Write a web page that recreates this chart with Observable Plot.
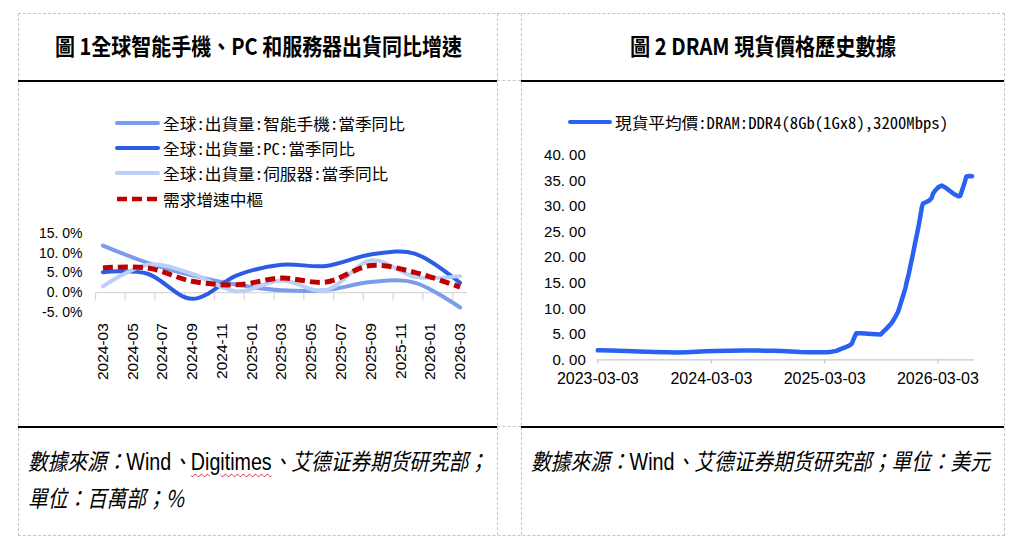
<!DOCTYPE html>
<html><head><meta charset="utf-8">
<script src="https://cdn.jsdelivr.net/npm/d3@7"></script>
<script src="https://cdn.jsdelivr.net/npm/@observablehq/plot@0.6"></script>
<style>
body{margin:0;background:#fff;}
#page{position:relative;width:1032px;height:557px;overflow:hidden;font-family:"Noto Sans CJK TC","Noto Sans CJK SC",sans-serif;color:#000;}
.ln{position:absolute;}
.fit{position:absolute;white-space:nowrap;transform-origin:0 50%;line-height:1;}
.chart{position:absolute;}
.up{font-style:normal;font-family:"Liberation Sans",Arial,sans-serif;}
.sq{text-decoration:underline wavy #d02020;text-decoration-thickness:1px;text-underline-offset:3px;}
</style></head><body><div id="page"></div>
<script>
// ---------- data: panel 1 ----------
const months = ["2024-03","2024-04","2024-05","2024-06","2024-07","2024-08","2024-09","2024-10","2024-11","2024-12",
  "2025-01","2025-02","2025-03","2025-04","2025-05","2025-06","2025-07","2025-08","2025-09","2025-10","2025-11","2025-12",
  "2026-01","2026-02","2026-03"];
const quarters = ["2024-03","2024-06","2024-09","2024-12","2025-03","2025-06","2025-09","2025-12","2026-03"];
const smartphone = [12.0, 7.6, 4.4, 2.0, 0.6, 0.6, 2.7, 2.5, -3.8];
const pcShip     = [5.2, 4.8, -1.6, 4.4, 7.1, 6.8, 9.7, 9.9, 2.5];
const serverShip = [1.6, 7.1, 4.8, 0.3, 3.1, 0.6, 8.2, 4.0, 4.2];
const demandMid  = [6.3, 6.3, 2.9, 2.0, 3.7, 2.7, 6.9, 5.1, 1.4];
const seriesNames1 = ["全球:出貨量:智能手機:當季同比","全球:出貨量:PC:當季同比","全球:出貨量:伺服器:當季同比","需求增速中樞"];
const xTickLabels1 = ["2024-03","2024-05","2024-07","2024-09","2024-11","2025-01","2025-03","2025-05","2025-07","2025-09","2025-11","2026-01","2026-03"];
const yTicks1 = [-5, 0, 5, 10, 15];
const yTickLabels1 = ["-5. 0%","0. 0%","5. 0%","10. 0%","15. 0%"];

// ---------- data: panel 2 ----------
const dramDates = ["2023-03-03","2023-04-15","2023-06-01","2023-07-15","2023-09-01","2023-10-15","2023-11-15","2023-12-15",
  "2024-01-15","2024-02-15","2024-03-15","2024-05-01","2024-06-15","2024-08-01","2024-09-15","2024-10-15","2024-11-15","2024-12-15",
  "2025-01-15","2025-02-15","2025-03-10","2025-03-25","2025-04-10","2025-04-23","2025-05-10","2025-05-22","2025-05-30","2025-06-06",
  "2025-06-13","2025-06-30","2025-07-20","2025-08-15","2025-08-30","2025-09-10","2025-09-20","2025-10-05","2025-10-17","2025-10-25",
  "2025-10-31","2025-11-08","2025-11-14","2025-11-18","2025-11-24","2025-11-29","2025-12-06","2025-12-13","2025-12-20","2025-12-28",
  "2026-01-02","2026-01-06","2026-01-10","2026-01-14","2026-01-25","2026-02-03","2026-02-10","2026-02-16","2026-02-23","2026-03-05",
  "2026-03-16","2026-03-28","2026-04-12","2026-04-25","2026-05-09","2026-05-14","2026-05-20","2026-05-27","2026-06-03","2026-06-12","2026-06-21"];
const dramPrice = [1.85,1.80,1.70,1.62,1.55,1.48,1.45,1.50,
  1.58,1.65,1.72,1.78,1.80,1.80,1.78,1.72,1.62,1.52,
  1.48,1.47,1.50,1.58,1.75,2.10,2.50,2.80,3.20,4.30,
  5.20,5.20,5.10,5.00,4.95,5.60,6.20,7.20,8.40,9.30,
  10.40,12.00,13.20,14.00,15.60,16.80,18.80,20.80,23.00,25.30,
  26.90,28.30,29.80,30.60,30.90,31.20,31.60,32.60,33.20,33.80,
  34.10,33.70,33.00,32.40,32.00,32.10,33.20,34.50,35.90,36.00,35.95];
const dramSeriesName = "現貨平均價:DRAM:DDR4(8Gb(1Gx8),3200Mbps)";
const xTickLabels2 = ["2023-03-03","2024-03-03","2025-03-03","2026-03-03"];
const yTicks2 = [0,5,10,15,20,25,30,35,40];
const yTickLabels2 = ["0. 00","5. 00","10. 00","15. 00","20. 00","25. 00","30. 00","35. 00","40. 00"];

const titles = ["圖 1全球智能手機、PC 和服務器出貨同比增速", "圖 2 DRAM 現貨價格歷史數據"];

// ---------- layout ----------
const page = document.getElementById("page");
function box(css){ const d=document.createElement("div"); d.className="ln"; d.style.cssText=css; page.appendChild(d); return d; }
const dashC = "#c4c4c4";
box(`left:18px;top:13px;width:985px;height:521px;border:1px dashed ${dashC};`);
box(`left:497px;top:13px;width:0;height:522px;border-left:1px dashed ${dashC};`);
box(`left:521px;top:13px;width:0;height:522px;border-left:1px dashed ${dashC};`);
box(`left:497px;top:80px;width:24px;height:0;border-top:1px dashed ${dashC};`);
box(`left:497px;top:426px;width:24px;height:0;border-top:1px dashed ${dashC};`);
box(`left:18px;top:80px;width:479px;height:2px;background:#000;`);
box(`left:521px;top:80px;width:483px;height:2px;background:#000;`);
box(`left:18px;top:425.5px;width:479px;height:2px;background:#000;`);
box(`left:521px;top:425.5px;width:483px;height:2px;background:#000;`);

function textEl(html, fs, extra){
  const s=document.createElement("div"); s.className="fit"; s.innerHTML=html;
  s.style.fontSize=fs+"px"; if(extra) s.style.cssText+=extra; page.appendChild(s); return s;
}
function placeFit(el, x, cy, targetW, scale){
  const r=el.getBoundingClientRect();
  const k = scale!=null ? scale : targetW/r.width;
  el.style.left=x+"px"; el.style.top=(cy - r.height/2)+"px";
  el.style.transform=`scaleX(${k})`; return k;
}
// titles
const t1=textEl(titles[0],23,"font-weight:700;");
{ const w=407; placeFit(t1, 258.5-w/2, 45, w); }
const t2=textEl(titles[1],23,"font-weight:700;");
{ const w=266; placeFit(t2, 763-w/2, 45, w); }
// footers
const f1=textEl('數據來源：<span class="up">Wind</span>、<span class="up sq">Digitimes</span>、艾德证券期货研究部；',23,"font-style:italic;");
const kf=placeFit(f1, 28, 461, 460);
const f2=textEl('單位：百萬部；%',23,"font-style:italic;");
placeFit(f2, 28, 497, 0, kf);
const f3=textEl('數據來源：<span class="up">Wind</span>、艾德证券期货研究部；單位：美元',23,"font-style:italic;");
placeFit(f3, 531, 461, 459);

// legends
const colors1 = ["#7b9cec","#2c5be4","#bccff6","#c00000"];
const legFont = '"Noto Sans Mono CJK TC","Noto Sans CJK TC",sans-serif';
const legY = [122.5, 147.8, 173.2, 198.5];
let kl=null;
seriesNames1.forEach((name,i)=>{
  const sw=document.createElementNS("http://www.w3.org/2000/svg","svg");
  sw.setAttribute("width",46); sw.setAttribute("height",10);
  sw.style.cssText=`position:absolute;left:115px;top:${legY[i]-5}px;`;
  sw.innerHTML=`<line x1="2" x2="43" y1="5" y2="5" stroke="${colors1[i]}" stroke-width="${i===3?4.5:4}" ${i===3?'stroke-dasharray="10,5"':'stroke-linecap="round"'}/>`;
  page.appendChild(sw);
  const t=textEl(name,16,`font-family:${legFont};`);
  const k=placeFit(t,162.7,legY[i],242,kl); if(kl==null) kl=k;
});
{
  const sw=document.createElementNS("http://www.w3.org/2000/svg","svg");
  sw.setAttribute("width",46); sw.setAttribute("height",10);
  sw.style.cssText=`position:absolute;left:568px;top:${122.3-5}px;`;
  sw.innerHTML=`<line x1="2" x2="42" y1="5" y2="5" stroke="#2962f0" stroke-width="4" stroke-linecap="round"/>`;
  page.appendChild(sw);
  const t=textEl(dramSeriesName,16,`font-family:${legFont};`);
  placeFit(t,615,122.3,333);
}

// ---------- panel 1 chart ----------
const seriesVals1 = [smartphone, pcShip, serverShip, demandMid];
const rows1 = [];
seriesNames1.forEach((name,i)=>quarters.forEach((q,j)=>rows1.push({series:name, m:months.indexOf(q), v:seriesVals1[i][j]})));
const labelIdx = xTickLabels1.map(l=>months.indexOf(l));
const boundaries = labelIdx.map(i=>i-0.5);
const axisFont = "'Liberation Sans', Arial, sans-serif";

const p1 = Plot.plot({
  width:479, height:190,
  marginLeft:77, marginRight:30, marginTop:23.3, marginBottom:88.3,
  x:{type:"linear", domain:[-0.5, 24.5], axis:null},
  y:{domain:[-5,15], axis:null},
  style:{fontFamily:axisFont, color:"#000", background:"transparent", overflow:"visible"},
  marks:[
    Plot.ruleY([0], {x1:-0.5, x2:24.5, stroke:"#d9d9d9", strokeWidth:1.3}),
    Plot.ruleX(boundaries, {y1:0, y2:-2.1, stroke:"#d9d9d9", strokeWidth:1.3}),
    Plot.axisY({ticks:yTicks1, tickFormat:d=>yTickLabels1[yTicks1.indexOf(d)], tickSize:0, tickPadding:13, fontSize:14, label:null}),
    Plot.axisX({ticks:labelIdx, tickFormat:d=>months[d], tickRotate:-90, tickSize:0, tickPadding:11, fontSize:15.5, label:null}),
    ...seriesNames1.map((name,i)=>Plot.line(rows1.filter(r=>r.series===name), {
      x:"m", y:"v", stroke:colors1[i], strokeWidth:i===3?5:4, curve:"cardinal",
      strokeDasharray:i===3?"10,5":undefined, strokeLinecap:i===3?"butt":"round"}))
  ]
});
p1.classList.add("chart"); p1.style.left="18px"; p1.style.top="210px";
page.appendChild(p1);

// ---------- panel 2 chart ----------
const dram = dramDates.map((d,i)=>({date:new Date(d), v:dramPrice[i]}));
const xTickDates2 = xTickLabels2.map(s=>new Date(s));
const p2 = Plot.plot({
  width:483, height:260,
  marginLeft:76.3, marginRight:30, marginTop:15, marginBottom:40.7,
  x:{type:"utc", domain:[new Date("2023-03-03"), new Date("2026-06-29")], axis:null},
  y:{domain:[0,40], axis:null},
  style:{fontFamily:axisFont, color:"#000", background:"transparent", overflow:"visible"},
  marks:[
    Plot.ruleY([0], {stroke:"#c8c8c8", strokeWidth:1.3}),
    Plot.ruleX(xTickDates2, {y1:0, y2:-0.8, stroke:"#c8c8c8", strokeWidth:1.3}),
    Plot.axisY({ticks:yTicks2, tickFormat:d=>yTickLabels2[yTicks2.indexOf(d)], tickSize:0, tickPadding:12, fontSize:15, label:null}),
    Plot.axisX({ticks:xTickDates2, tickFormat:d=>xTickLabels2[xTickDates2.findIndex(t=>+t===+d)], tickSize:0, tickPadding:13, fontSize:16, label:null}),
    Plot.line(dram, {x:"date", y:"v", stroke:"#2962f0", strokeWidth:4.5})
  ]
});
p2.classList.add("chart"); p2.style.left="521px"; p2.style.top="140px";
page.appendChild(p2);
</script></body></html>
